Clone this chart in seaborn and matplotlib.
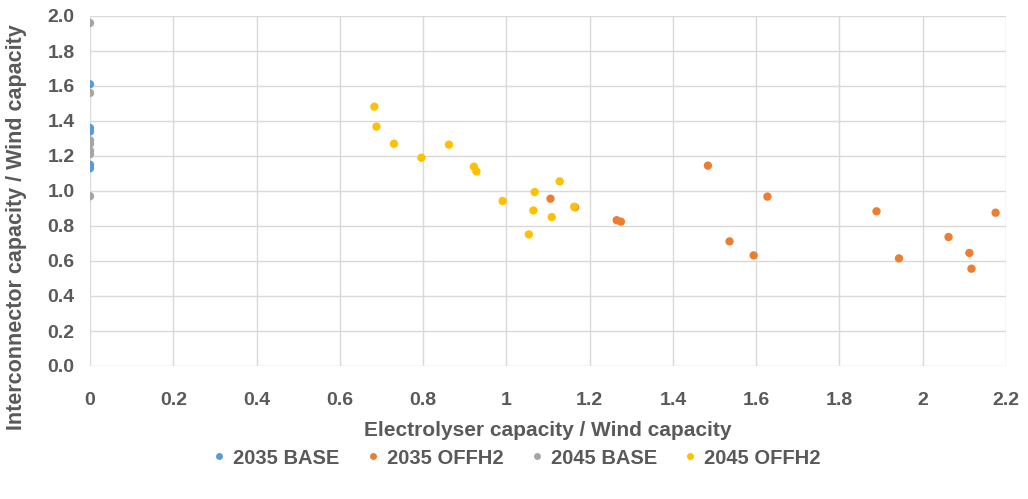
import pandas as pd
import matplotlib.pyplot as plt
import matplotlib.ticker as mticker
import seaborn as sns

sns.set_theme(style="white")
plt.rcParams['font.family'] = ['Liberation Sans', 'DejaVu Sans']

# 2035 BASE
base35_x = [0, 0, 0, 0, 0]
base35_y = [1.61, 1.36, 1.34, 1.15, 1.13]
# 2035 OFFH2
offh35_x = [1.106, 1.165, 1.265, 1.275, 1.484, 1.627, 1.536, 1.594, 1.889, 2.175, 2.062, 1.943, 2.112, 2.117]
offh35_y = [0.956, 0.907, 0.833, 0.825, 1.145, 0.968, 0.712, 0.632, 0.884, 0.876, 0.737, 0.615, 0.646, 0.556]
# 2045 BASE
base45_x = [0, 0, 0, 0, 0, 0, 0]
base45_y = [1.96, 1.56, 1.29, 1.27, 1.23, 1.21, 0.97]
# 2045 OFFH2
offh45_x = [0.683, 0.688, 0.730, 0.796, 0.862, 0.922, 0.928, 0.991, 1.068, 1.128, 1.065, 1.109, 1.163, 1.054]
offh45_y = [1.482, 1.368, 1.270, 1.190, 1.265, 1.139, 1.112, 0.943, 0.994, 1.055, 0.889, 0.851, 0.910, 0.752]

series = ['2035 BASE', '2035 OFFH2', '2045 BASE', '2045 OFFH2']
colors = ['#5B9BD5', '#ED7D31', '#A5A5A5', '#FFC000']

frames = []
for name, xs, ys in zip(series,
                        [base35_x, offh35_x, base45_x, offh45_x],
                        [base35_y, offh35_y, base45_y, offh45_y]):
    frames.append(pd.DataFrame({'x': xs, 'y': ys, 'series': name}))
df = pd.concat(frames, ignore_index=True)

fig = plt.figure(figsize=(10.28, 4.99), dpi=100)
ax = fig.add_axes([90 / 1028, 1 - 366 / 499, 916 / 1028, 350 / 499])

sns.scatterplot(data=df, x='x', y='y', hue='series', hue_order=series,
                palette=colors, s=36, linewidth=0, ax=ax, legend=False, zorder=3)

ax.set_xlim(0, 2.2)
ax.set_ylim(0, 2.0)
ax.xaxis.set_major_locator(mticker.MultipleLocator(0.2))
ax.yaxis.set_major_locator(mticker.MultipleLocator(0.2))
ax.xaxis.set_major_formatter(mticker.FuncFormatter(lambda v, p: f'{v:.1f}'.rstrip('0').rstrip('.') if v else '0'))
ax.yaxis.set_major_formatter(mticker.FormatStrFormatter('%.1f'))
ax.grid(True, color='#D9D9D9', linewidth=1)
for s in ax.spines.values():
    s.set_visible(False)
ax.tick_params(axis='both', length=0, labelsize=14, labelcolor='#595959')
ax.tick_params(axis='x', pad=19)
ax.tick_params(axis='y', pad=11)
for lab in ax.get_xticklabels() + ax.get_yticklabels():
    lab.set_fontweight('bold')

ax.set_xlabel('Electrolyser capacity / Wind capacity', fontsize=15, fontweight='bold',
              color='#595959', labelpad=8)
ax.set_ylabel('Interconnector capacity / Wind capacity', fontsize=15.5, fontweight='bold',
              color='#595959')
ax.yaxis.set_label_coords(-0.069, 0.397)

handles = [plt.Line2D([], [], marker='o', linestyle='', markersize=5, color=c,
                      markeredgewidth=0) for c in colors]
fig.legend(handles, series, loc='center', bbox_to_anchor=(0.5, 1 - 458 / 499), ncol=4,
           frameon=False, prop={'size': 14.5, 'weight': 'bold'}, labelcolor='#595959',
           handletextpad=0.1, handlelength=1.2, columnspacing=1.05)

fig.savefig('out.png', dpi=100)
